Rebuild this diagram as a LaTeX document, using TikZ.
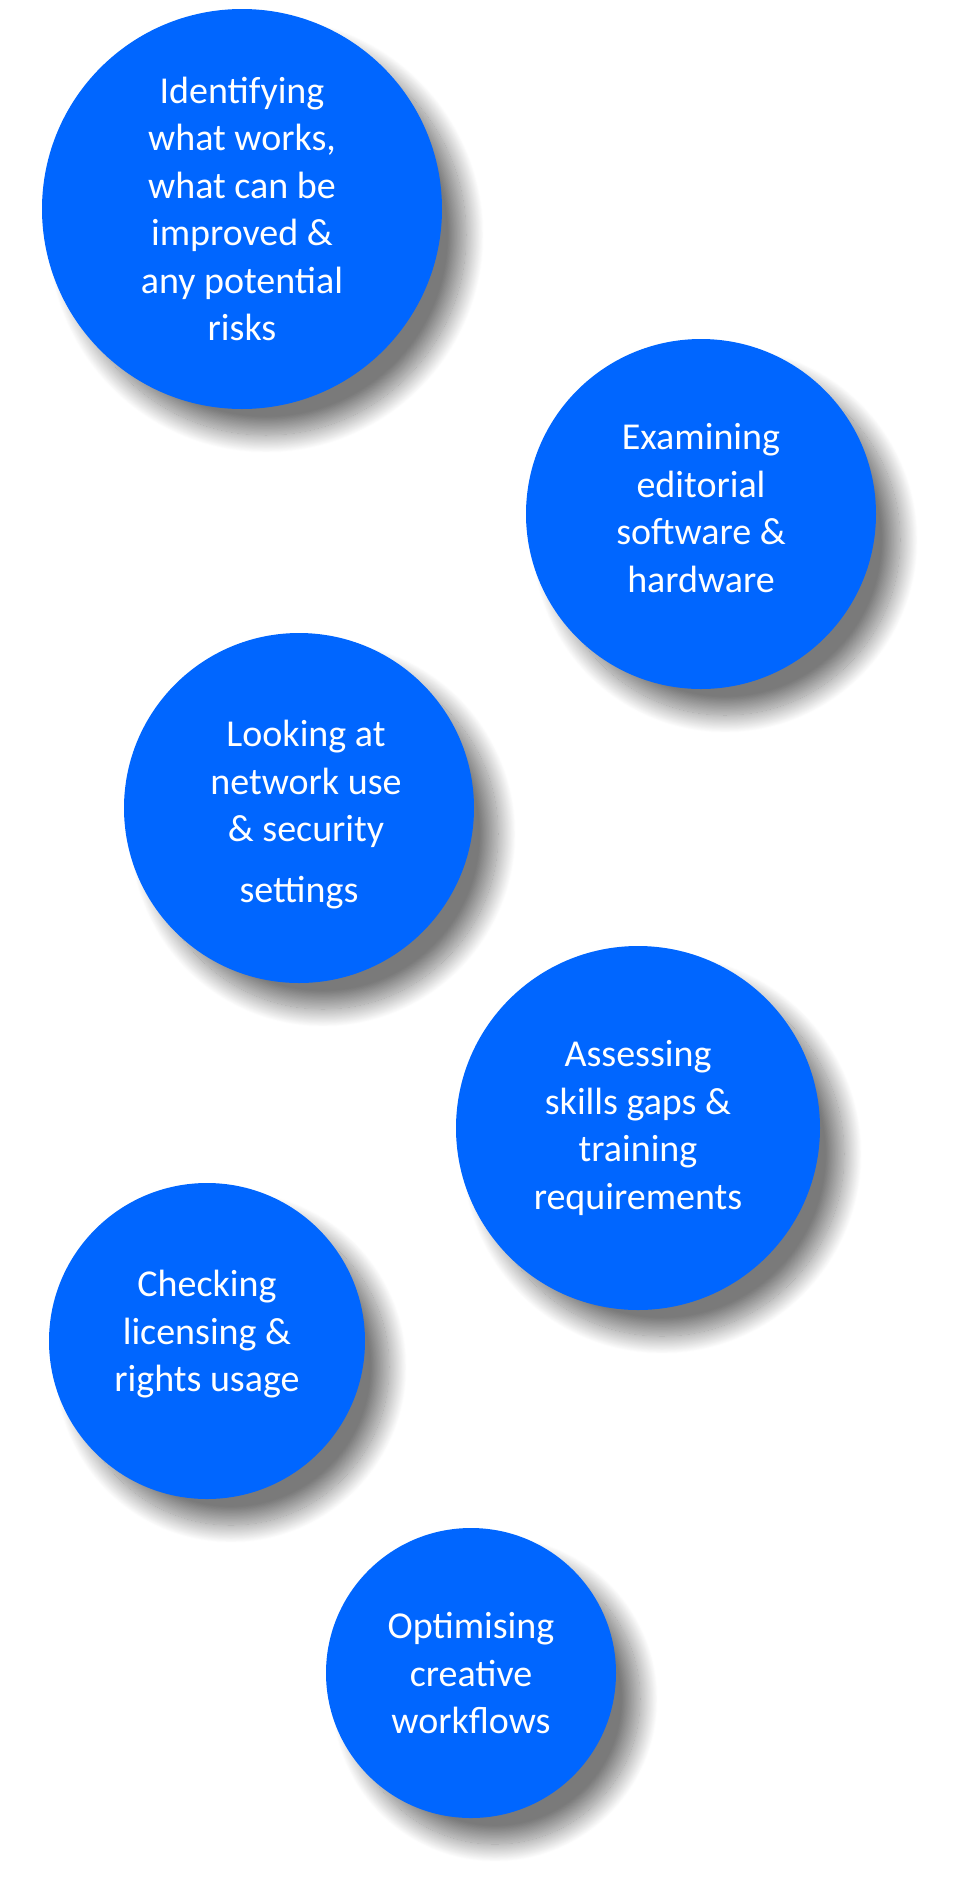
\documentclass[tikz,border=0pt]{standalone}
\usepackage{fontspec}
\setmainfont{Carlito}
\usepackage{xcolor}
\usepackage{tikz}
\usetikzlibrary{shadows.blur}
\usetikzlibrary{shapes,positioning}
\definecolor{bubbleblue}{HTML}{0066FF}
\newcommand{\bubblefont}{\fontsize{38}{47.5}\selectfont}
\tikzset{bubble-shadow/.style={blur shadow={shadow xshift=24pt, shadow yshift=-26pt, shadow blur radius=18pt, shadow blur steps=30, shadow opacity=52}}}
\tikzset{bubble-node/.style={circle, fill=bubbleblue, text=white, inner sep=0, outer sep=0, align=center, font=\bubblefont, bubble-shadow}}

\begin{document}
\begin{tikzpicture}[x=1pt, y=-1pt]
            \useasboundingbox (0,0) rectangle (960,1880);

            \node[bubble-node, minimum size=400pt] (bubble1) at (242,209) {Identifying\\what works,\\what can be\\improved \&\\any potential\\risks};

            \node[bubble-node, minimum size=350pt, below=-70pt of bubble1.south, xshift=459pt] (bubble2) {Examining\\editorial\\software \&\\hardware\rule[-12pt]{0pt}{12pt}};

            \node[bubble-node, minimum size=350pt, below=-56pt of bubble2.south, xshift=-402pt] (bubble3) {\rule{0pt}{40pt}\hspace*{14pt}Looking at\\\hspace*{14pt}network use\\\hspace*{14pt}\& security\\[13pt]settings};

            \node[bubble-node, minimum size=364pt, below=-37pt of bubble3.south, xshift=339pt] (bubble4) {Assessing\\skills gaps \&\\training\\requirements};

            \node[bubble-node, minimum size=316pt, below=-127pt of bubble4.south, xshift=-431pt] (bubble5) {Checking\\licensing \&\\rights usage\rule[-20pt]{0pt}{20pt}};

            \node[bubble-node, minimum size=290pt, below=29pt of bubble5.south, xshift=264pt] (bubble6) {Optimising\\creative\\workflows};
        \end{tikzpicture}
\end{document}
